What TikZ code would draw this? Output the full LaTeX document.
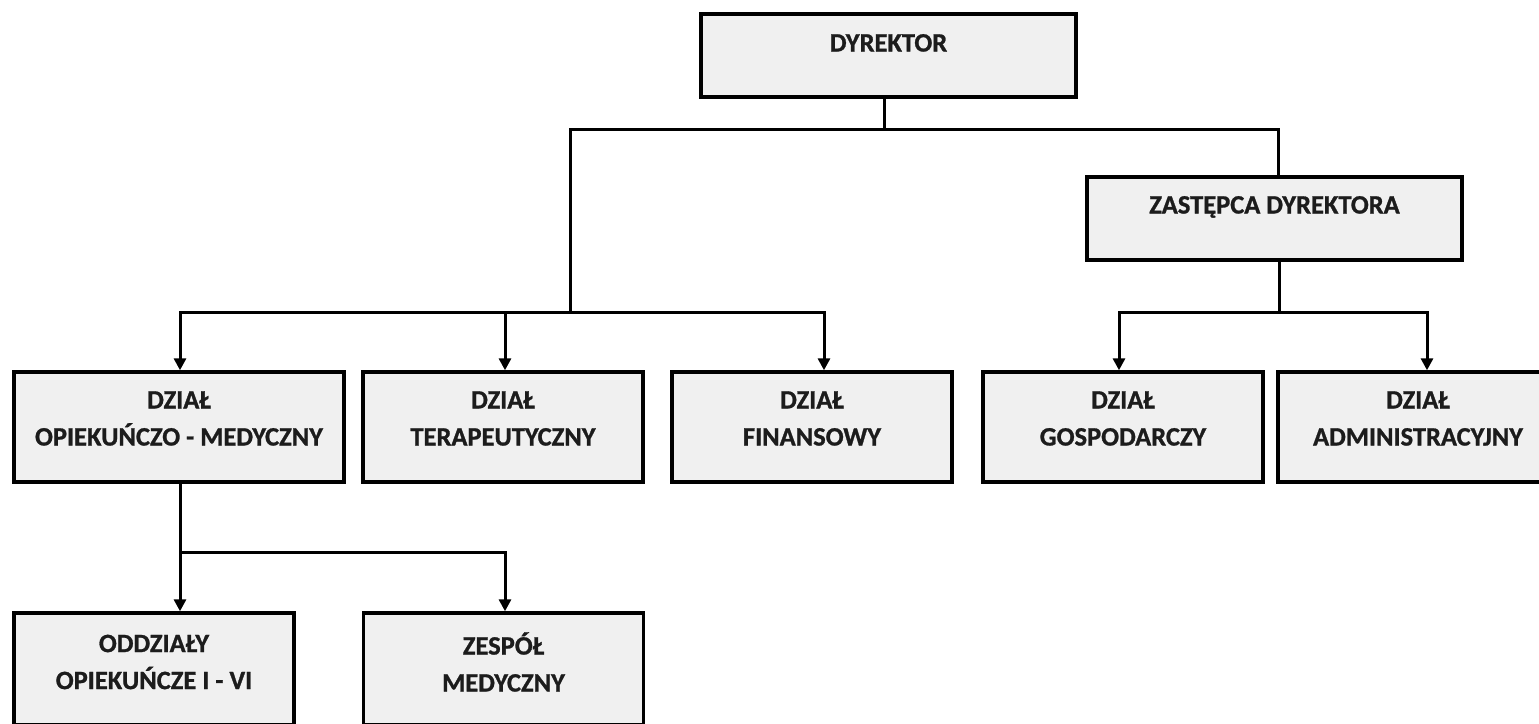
\documentclass[tikz,border=0pt]{standalone}
\usepackage{fontspec}
\setmainfont{Carlito}[BoldFeatures={FakeBold=1}]
\usetikzlibrary{arrows.meta}
\definecolor{boxfill}{RGB}{240,240,240}
\definecolor{ink}{RGB}{28,28,28}
\begin{document}
\begin{tikzpicture}[x=1pt,y=-1pt,
  box/.style={draw=black,fill=boxfill,line width=3.4pt,rectangle,inner sep=0pt},
  lbl/.style={text=ink,align=center,inner sep=0pt,font=\fontsize{26.5}{37}\selectfont\bfseries},
  conn/.style={draw=black,line width=3pt,line cap=rect},
  arr/.style={draw=black,line width=3pt,-{Triangle[width=12pt,length=12pt]}}]
\useasboundingbox[fill=white] (0,0) rectangle (1539,723);
% boxes
\node[box,minimum width=375pt,minimum height=83pt] (dyr) at (888.5,55.5) {};
\node[box,minimum width=375pt,minimum height=83pt] (zast) at (1274.5,218.5) {};
\node[box,minimum width=330pt,minimum height=110pt] (opiek) at (179,427) {};
\node[box,minimum width=280pt,minimum height=110pt] (terap) at (503,427) {};
\node[box,minimum width=280pt,minimum height=110pt] (fin) at (812,427) {};
\node[box,minimum width=280pt,minimum height=110pt] (gosp) at (1123,427) {};
\node[box,minimum width=280pt,minimum height=110pt] (adm) at (1418,427) {};
\node[box,minimum width=280pt,minimum height=112pt] (oddz) at (154,669) {};
\node[box,minimum width=280pt,minimum height=112pt] (zesp) at (503.5,669) {};
% labels
\node[lbl,anchor=base] (tdyr) at (888.5,51.5) {DYREKTOR};
\node[lbl,anchor=base] (tzast) at (1274.5,213.5) {ZASTĘPCA DYREKTORA};
\node[lbl] (topiek) at (179,418.5) {DZIAŁ\\OPIEKUŃCZO - MEDYCZNY};
\node[lbl] (tterap) at (503,418.5) {DZIAŁ\\TERAPEUTYCZNY};
\node[lbl] (tfin) at (812,418.5) {DZIAŁ\\FINANSOWY};
\node[lbl] (tgosp) at (1123,418.5) {DZIAŁ\\GOSPODARCZY};
\node[lbl] (tadm) at (1418,418.5) {DZIAŁ\\ADMINISTRACYJNY};
\node[lbl] (toddz) at (154,662) {ODDZIAŁY\\OPIEKUŃCZE I - VI};
\node[lbl] (tzesp) at (503.5,662) {ZESPÓŁ\\MEDYCZNY};
% junction coordinates
\coordinate (j1) at (884,129);
\coordinate (jL) at (570,129);
\coordinate (jR) at (1278,129);
\coordinate (j2) at (570,312);
\coordinate (a1) at (180,312);
\coordinate (a2) at (505,312);
\coordinate (a3) at (824,312);
\coordinate (j3) at (1279,312);
\coordinate (b1) at (1119,312);
\coordinate (b2) at (1427,312);
\coordinate (c1) at (180,552);
\coordinate (c2) at (505,552);
% connectors
\draw[conn] (dyr.south -| j1) -- (j1);
\draw[conn] (jL) -- (jR) -- (jR |- zast.north);
\draw[conn] (jL) -- (j2);
\draw[conn] (a1) -- (a3);
\draw[arr] (a1) -- (a1 |- opiek.north);
\draw[arr] (a2) -- (a2 |- terap.north);
\draw[arr] (a3) -- (a3 |- fin.north);
\draw[conn] (zast.south -| j3) -- (j3);
\draw[conn] (b1) -- (b2);
\draw[arr] (b1) -- (b1 |- gosp.north);
\draw[arr] (b2) -- (b2 |- adm.north);
\draw[conn] (opiek.south -| c1) -- (c1) -- (c2);
\draw[arr] (c1) -- (c1 |- oddz.north);
\draw[arr] (c2) -- (c2 |- zesp.north);
\end{tikzpicture}
\end{document}
